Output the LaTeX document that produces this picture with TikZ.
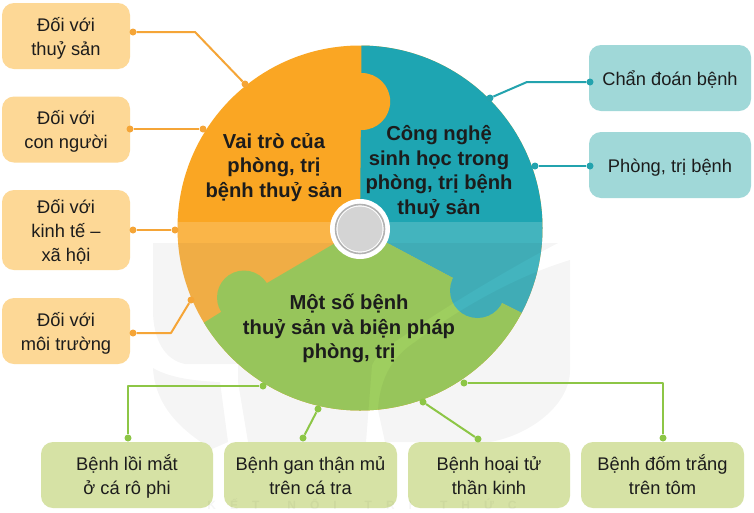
\documentclass[tikz,border=0pt]{standalone}
\usepackage{fontspec}
\setmainfont{Liberation Sans}
\definecolor{orangeS}{RGB}{250,166,35}
\definecolor{tealS}{RGB}{30,165,178}
\definecolor{greenS}{RGB}{139,197,63}
\definecolor{orangeB}{RGB}{253,216,150}
\definecolor{tealB}{RGB}{160,216,216}
\definecolor{greenB}{RGB}{214,226,165}
\definecolor{orangeL}{RGB}{245,165,55}
\definecolor{tealL}{RGB}{35,163,174}
\definecolor{greenL}{RGB}{141,198,70}
\definecolor{inkT}{RGB}{28,28,28}
\newcommand{\boxtxt}[1]{\raisebox{-6.6pt}[0pt][0pt]{\begin{tabular}[c]{@{}c@{}}#1\end{tabular}}}
\tikzset{
  x=1pt,y=-1pt,
  boxbase/.style={rounded corners=12pt,inner sep=0pt,text=inkT,font=\fontsize{18.3}{24}\selectfont},
  orangebox/.style={boxbase,fill=orangeB,minimum width=128pt},
  tealbox/.style={boxbase,fill=tealB,minimum width=162pt,minimum height=66pt},
  greenbox/.style={boxbase,fill=greenB,minimum height=66pt},
  maintext/.style={align=center,inner sep=0pt,text=inkT,font=\bfseries\fontsize{20.2}{24.5}\selectfont},
  dotbase/.style={circle,inner sep=0pt,minimum size=7pt},
  odot/.style={dotbase,fill=orangeL},
  tdot/.style={dotbase,fill=tealL},
  gdot/.style={dotbase,fill=greenL},
  oline/.style={draw=orangeL,line width=2pt,line join=round},
  tline/.style={draw=tealL,line width=2pt,line join=round},
  gline/.style={draw=greenL,line width=2pt,line join=round},
  wmark/.style={fill=black,fill opacity=0.04},
}
\begin{document}
\begin{tikzpicture}
\useasboundingbox (0,0) rectangle (754,512);
\fill[white] (0,0) rectangle (754,512);
% wheel
\begin{scope}
  \clip (360,228) circle (182.5);
  \fill[orangeS] (150,20) rectangle (570,430);
  \fill[tealS] (360,228.5) -- (361.7,20) -- (620,20) -- (620,365) -- (522,313) -- (502,303) -- (453,278) -- cycle;
  \fill[orangeS] (361.7,101.5) circle (28.5);
  \fill[greenS] (360,228.5) -- (453,278) -- (502,303) -- (522,313) -- (620,365) -- (620,450) -- (100,450) -- (100,385) -- (205,322) -- (221,312) -- (267,283) -- cycle;
  \fill[greenS] (244,297.5) circle (27);
  \fill[tealS] (477.5,290.5) circle (27.5);
  \fill[white,fill opacity=0.17] (150,222) rectangle (570,430);
\end{scope}
% watermark
\fill[wmark] (153,243) -- (558,243) .. controls (510,268) and (440,310) .. (405,335) .. controls (390,345) and (378,352) .. (372,365)
  -- (366,442) -- (248,442) -- (238,382) -- (238,364) -- (185,364) .. controls (165,360) and (153,340) .. (153,310) -- cycle;
\fill[wmark] (570,260) -- (570,370) .. controls (570,405) and (530,435) .. (490,442) -- (385,442) -- (378,410)
  .. controls (380,375) and (395,355) .. (415,342) .. controls (450,315) and (510,278) .. (570,260) -- cycle;
\fill[wmark] (153,368) .. controls (170,378) and (195,381) .. (220,382) -- (228,442) -- (212,449) .. controls (180,430) and (155,405) .. (153,368) -- cycle;
% hub
\fill[white] (360,229) circle (30);
\draw[draw=black!30,line width=1.6pt] (360,229) circle (24.5);
\fill[black!17] (360,229) circle (22.5);
% boxes
\node[orangebox,minimum height=66pt] (l1) at (66,36) {\boxtxt{Đối với\\thuỷ sản}};
\node[orangebox,minimum height=66pt] (l2) at (66,129.5) {\boxtxt{Đối với\\con người}};
\node[orangebox,minimum height=80pt] (l3) at (66,230) {\boxtxt{Đối với\\kinh tế –\\xã hội}};
\node[orangebox,minimum height=66pt] (l4) at (66,331) {\boxtxt{Đối với\\môi trường}};
\node[tealbox] (r1) at (670,78) {\boxtxt{Chẩn đoán bệnh}};
\node[tealbox] (r2) at (670,165) {\boxtxt{Phòng, trị bệnh}};
\node[greenbox,minimum width=172pt] (b1) at (127,475) {\boxtxt{Bệnh lồi mắt\\ở cá rô phi}};
\node[greenbox,minimum width=173pt] (b2) at (310.5,475) {\boxtxt{Bệnh gan thận mủ\\trên cá tra}};
\node[greenbox,minimum width=162pt] (b3) at (489,475) {\boxtxt{Bệnh hoại tử\\thần kinh}};
\node[greenbox,minimum width=163pt] (b4) at (662.5,475) {\boxtxt{Bệnh đốm trắng\\trên tôm}};
\node[text=black,text opacity=0.04,font=\bfseries\fontsize{12}{12}\selectfont,inner sep=0pt,anchor=base] (wm) at (362,509.5) {{\spaceskip=14pt K Ế T \ N Ố I \ T R I \ T H Ứ C}};
% centre labels
\node[maintext] (t1) at (274,167.5) {Vai trò của\\phòng, trị\\bệnh thuỷ sản};
\node[maintext] (t2) at (439,172) {Công nghệ\\sinh học trong\\phòng, trị bệnh\\thuỷ sản};
\node[maintext] (t3) at (349,328.5) {Một số bệnh\\thuỷ sản và biện pháp\\phòng, trị};
% connector dots
\node[odot] (a1) at (133,32) {}; \node[odot] (a2) at (245,84) {};
\node[odot] (c1) at (130,129) {}; \node[odot] (c2) at (203,129) {};
\node[odot] (d1) at (133,230) {}; \node[odot] (d2) at (175,230) {};
\node[odot] (e1) at (133,333) {}; \node[odot] (e2) at (191,300) {};
\node[tdot] (f1) at (590,82) {}; \node[tdot] (f2) at (490,98) {};
\node[tdot] (g1) at (590,166) {}; \node[tdot] (g2) at (535,166) {};
\node[gdot] (h1) at (128,438) {}; \node[gdot] (h2) at (263,386) {};
\node[gdot] (i1) at (303,438) {}; \node[gdot] (i2) at (318,409) {};
\node[gdot] (j1) at (478,439) {}; \node[gdot] (j2) at (423,402) {};
\node[gdot] (k1) at (663,438) {}; \node[gdot] (k2) at (464,383) {};
% connectors
\draw[oline] (a1) -- (195,32) -- (a2);
\draw[oline] (c1) -- (c2);
\draw[oline] (d1) -- (d2);
\draw[oline] (e1) -- (171,333) -- (e2);
\draw[tline] (f1) -- (527,82) -- (f2);
\draw[tline] (g1) -- (g2);
\draw[gline] (h1) -- (128,386) -- (h2);
\draw[gline] (i1) -- (i2);
\draw[gline] (j1) -- (j2);
\draw[gline] (k1) -- (663,383) -- (k2);
\end{tikzpicture}
\end{document}
